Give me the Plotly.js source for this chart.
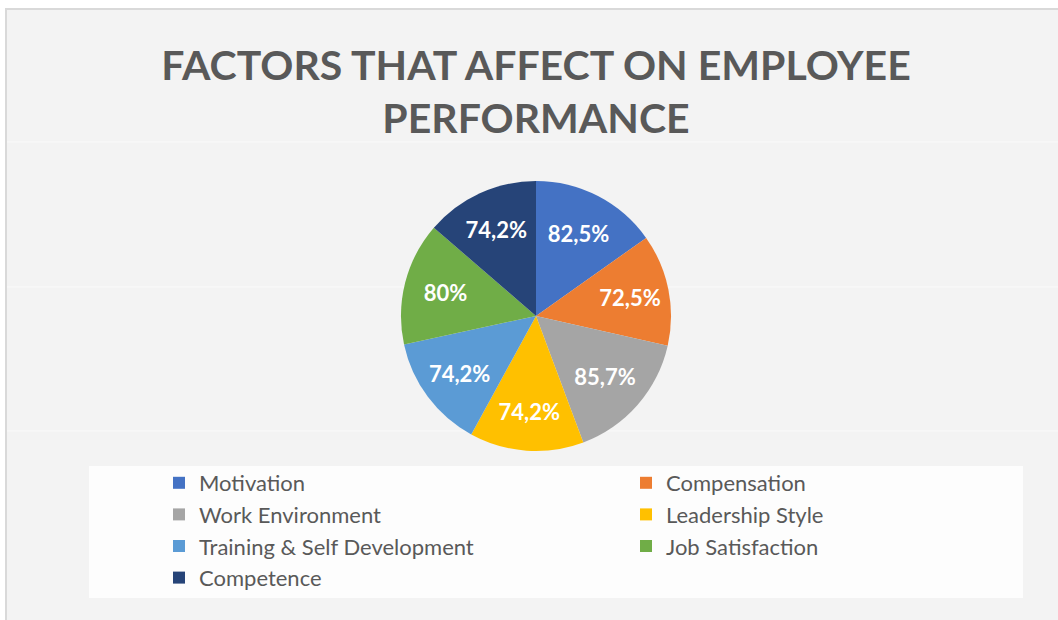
<!DOCTYPE html>
<html>
<head>
<meta charset="utf-8">
<script src="https://cdn.plot.ly/plotly-3.0.1.min.js"></script>
<style>
  html, body { margin: 0; padding: 0; background: #ffffff; }
  #chart { width: 1058px; height: 620px; }
</style>
</head>
<body>
<div id="chart"></div>
<script>
// ---- data ----
const categories = [
  "Motivation",
  "Compensation",
  "Work Environment",
  "Leadership Style",
  "Training & Self Development",
  "Job Satisfaction",
  "Competence"
];
const values = [82.5, 72.5, 85.7, 74.2, 74.2, 80, 74.2];
const valueLabels = ["82,5%", "72,5%", "85,7%", "74,2%", "74,2%", "80%", "74,2%"];
const sliceColors = ["#4472C4", "#ED7D31", "#A5A5A5", "#FFC000", "#5B9BD5", "#70AD47", "#264478"];
const chartTitle = "FACTORS THAT AFFECT ON EMPLOYEE<br>PERFORMANCE";

// ---- geometry helpers (pixels -> paper) ----
const W = 1058, H = 620;
const px = x => x / W;
const py = y => 1 - y / H;

const trace = {
  type: "pie",
  labels: categories,
  values: values,
  text: valueLabels,
  textinfo: "text",
  textposition: "inside",
  insidetextorientation: "horizontal",
  textfont: { family: "Lato, 'Open Sans', sans-serif", size: 22, color: "#ffffff", weight: "bold" },
  marker: { colors: sliceColors, line: { width: 0 } },
  sort: false,
  direction: "clockwise",
  rotation: 0,
  hoverinfo: "none",
  domain: { x: [px(401), px(671)], y: [py(451), py(181)] }
};

const layout = {
  width: W,
  height: H,
  margin: { l: 0, r: 0, t: 0, b: 0, autoexpand: false },
  paper_bgcolor: "#ffffff",
  showlegend: true,
  title: {
    text: chartTitle,
    font: { family: "Lato, 'Open Sans', sans-serif", size: 41, color: "#595959", weight: "bold" },
    x: px(536),
    xanchor: "center",
    y: py(79.5),
    yanchor: "middle",
    yref: "paper"
  },
  legend: {
    orientation: "h",
    entrywidth: 422,
    x: px(159),
    xanchor: "left",
    y: py(462),
    yanchor: "top",
    bgcolor: "rgba(0,0,0,0)",
    font: { family: "Lato, 'Open Sans', sans-serif", size: 22, color: "#595959" },
    traceorder: "normal"
  },
  shapes: [
    { type: "rect", xref: "paper", yref: "paper", layer: "below",
      x0: px(6), x1: px(1070), y0: py(640), y1: py(9),
      fillcolor: "#f3f3f3", line: { color: "#d9d9d9", width: 2 } },
    { type: "line", xref: "paper", yref: "paper", layer: "below",
      x0: px(7), x1: px(1058), y0: py(142), y1: py(142), line: { color: "#fafafa", width: 1 } },
    { type: "line", xref: "paper", yref: "paper", layer: "below",
      x0: px(7), x1: px(1058), y0: py(287), y1: py(287), line: { color: "#fafafa", width: 1 } },
    { type: "line", xref: "paper", yref: "paper", layer: "below",
      x0: px(7), x1: px(1058), y0: py(431), y1: py(431), line: { color: "#fafafa", width: 1 } },
    { type: "rect", xref: "paper", yref: "paper", layer: "below",
      x0: px(89), x1: px(1023), y0: py(598), y1: py(466),
      fillcolor: "#fdfdfd", line: { width: 0 } }
  ]
};

Plotly.newPlot("chart", [trace], layout, { displayModeBar: false, staticPlot: true });
</script>
</body>
</html>
